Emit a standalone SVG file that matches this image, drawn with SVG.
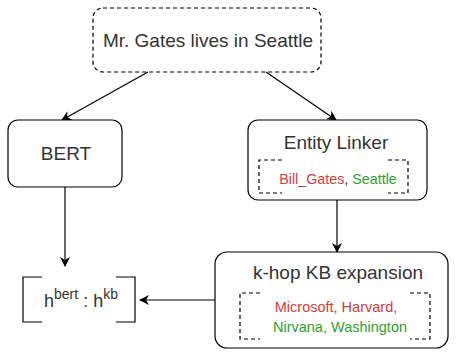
<svg xmlns="http://www.w3.org/2000/svg" width="458" height="352" viewBox="0 0 458 352">
<defs>
<marker id="ah" markerWidth="10" markerHeight="10" refX="9" refY="5" orient="auto" markerUnits="userSpaceOnUse">
<path d="M0,0 L10,5 L0,10 L3,5 Z" fill="#000"/>
</marker>
<style>
.box{fill:#fff;stroke:#000;stroke-width:1.2}
.dash{fill:none;stroke:#000;stroke-width:1.2;stroke-dasharray:4 3}
.t{font-family:"Liberation Sans",Arial,sans-serif;fill:#333;text-anchor:middle}
.red{fill:#d33c3c}
.grn{fill:#2f9e2f}
.edge{fill:none;stroke:#000;stroke-width:1.2;marker-end:url(#ah)}
</style>
</defs>
<rect width="458" height="352" fill="#fff"/>
<g id="connectors">
<path class="edge" d="M148,72 L62,120"/>
<path class="edge" d="M266,72 L336,120"/>
<path class="edge" d="M65,187 L65,266"/>
<path class="edge" d="M337,200 L337,252"/>
<path class="edge" d="M215,300 L140,300"/>
</g>
<g id="sentence">
<rect x="93" y="8" width="228" height="64" rx="10" class="dash" fill="#fff"/>
<text x="208" y="47" class="t" font-size="19">Mr. Gates lives in Seattle</text>
</g>
<g id="bert">
<rect x="8" y="120" width="114" height="67" rx="10" class="box"/>
<text x="66" y="160" class="t" font-size="19">BERT</text>
</g>
<g id="entity-linker">
<rect x="248" y="120" width="179" height="80" rx="10" class="box"/>
<text x="336" y="149" class="t" font-size="19">Entity Linker</text>
<path class="dash" d="M282,160 L259,160 L259,193 L282,193 M388,160 L408,160 L408,193 L388,193"/>
<text x="338" y="184" class="t" font-size="14.3"><tspan class="red">Bill_Gates</tspan>, <tspan class="grn">Seattle</tspan></text>
</g>
<g id="khop">
<rect x="215" y="252" width="233" height="96" rx="12" class="box"/>
<text x="338" y="279" class="t" font-size="19">k-hop KB expansion</text>
<path class="dash" d="M260,293 L240,293 L240,339 L260,339 M410,293 L430,293 L430,339 L410,339"/>
<text x="336" y="312" class="t red" font-size="14.5">Microsoft, Harvard,</text>
<text x="340" y="332" class="t grn" font-size="14.5">Nirvana, Washington</text>
</g>
<g id="concat">
<path d="M42,277 L23,277 L23,322 L42,322 M116,277 L135,277 L135,322 L116,322" fill="none" stroke="#000" stroke-width="1.2"/>
<text x="81" y="307" class="t" font-size="18">h<tspan font-size="14" dy="-8">bert</tspan><tspan dy="8"> : h</tspan><tspan font-size="14" dy="-8">kb</tspan></text>
</g>
</svg>
